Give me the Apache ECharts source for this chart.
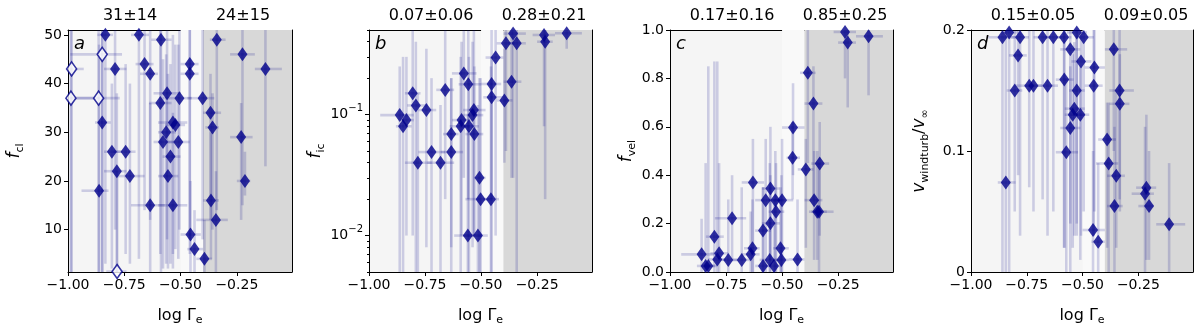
<!DOCTYPE html>
<html>
<head>
<meta charset="utf-8">
<script src="https://cdn.jsdelivr.net/npm/echarts@6/dist/echarts.min.js"></script>
<style>
  html, body { margin: 0; padding: 0; background: #fff; }
  #chart { width: 1200px; height: 334px; }
</style>
</head>
<body>
<div id="chart"></div>
<script>
// ---- data ----
// panel a: f_cl
const aX    = [-0.834,-0.685,-0.587,-0.848,-0.984,-0.791,-0.660,-0.635,-0.987,-0.864,-0.560,-0.590,-0.505,-0.848,-0.534,-0.523,-0.564,-0.578,-0.510,-0.805,-0.744,-0.545,-0.783,-0.725,-0.556,-0.862,-0.635,-0.534,-0.782,-0.339,-0.225,-0.123,-0.459,-0.459,-0.402,-0.367,-0.358,-0.231,-0.214,-0.365,-0.343,-0.456,-0.438,-0.394];
const aY    = [50,50,49,46,43,43,44,42,37,37,38,36,37,32,32,31.5,30,28,28,26,26,25,22,21,21,18,15,15,1.4,49,46,43,44,42,37,34,31,29,20,16,12,9,6,4];
const aXlo  = [-0.87,-0.72,-0.63,-0.99,-1.05,-0.84,-0.70,-0.68,-1.05,-0.99,-0.62,-0.64,-0.58,-0.88,-0.60,-0.57,-0.60,-0.62,-0.56,-0.84,-0.80,-0.58,-0.84,-0.78,-0.60,-0.94,-0.72,-0.60,-0.83,-0.37,-0.28,-0.17,-0.50,-0.50,-0.47,-0.40,-0.39,-0.28,-0.25,-0.40,-0.43,-0.50,-0.47,-0.43];
const aXhi  = [-0.80,-0.64,-0.54,-0.76,-0.93,-0.74,-0.62,-0.60,-0.86,-0.77,-0.50,-0.54,-0.45,-0.81,-0.47,-0.48,-0.52,-0.53,-0.46,-0.76,-0.70,-0.50,-0.74,-0.66,-0.51,-0.82,-0.57,-0.47,-0.74,-0.30,-0.17,-0.05,-0.42,-0.42,-0.35,-0.32,-0.33,-0.18,-0.19,-0.33,-0.29,-0.41,-0.40,-0.36];
const aYlo  = [3,4,1,1,1,10,14,12,1,1,8,5,10,1,5,6,3,2,4,2,5,3,1,3,2,1,1,2,1,14,15,23,8,5,8,12,10,12,17,4,1,1,1,1];
const aYhi  = [51,51,51,51,51,51,51,51,51,51,51,51,51,51,50,48,46,45,48,40,44,44,38,40,42,48,36,34,22,51,51,51,51,51,51,42,38,36,26,30,22,20,14,12];
const aOpen = [3,4,8,9,28];

// panel b: f_ic (log)
const bX   = [-0.577,-0.557,-0.805,-0.660,-0.791,-0.744,-0.863,-0.833,-0.848,-0.532,-0.538,-0.587,-0.591,-0.554,-0.530,-0.633,-0.721,-0.633,-0.782,-0.681,-0.507,-0.502,-0.456,-0.559,-0.514,-0.357,-0.341,-0.389,-0.219,-0.214,-0.118,-0.435,-0.453,-0.364,-0.453,-0.396];
const bY   = [0.219,0.178,0.150,0.160,0.119,0.109,0.099,0.090,0.080,0.109,0.099,0.090,0.080,0.080,0.069,0.069,0.049,0.049,0.040,0.040,0.030,0.020,0.020,0.010,0.010,0.467,0.388,0.388,0.455,0.400,0.470,0.296,0.179,0.187,0.139,0.131];
const bXlo = [-0.63,-0.60,-0.84,-0.70,-0.83,-0.78,-0.95,-0.86,-0.88,-0.58,-0.58,-0.63,-0.64,-0.60,-0.57,-0.67,-0.78,-0.68,-0.84,-0.74,-0.53,-0.57,-0.49,-0.62,-0.58,-0.40,-0.38,-0.43,-0.27,-0.25,-0.17,-0.48,-0.50,-0.40,-0.49,-0.43];
const bXhi = [-0.52,-0.50,-0.77,-0.62,-0.74,-0.70,-0.80,-0.80,-0.81,-0.48,-0.49,-0.54,-0.55,-0.51,-0.49,-0.60,-0.66,-0.58,-0.72,-0.62,-0.48,-0.45,-0.42,-0.50,-0.47,-0.30,-0.30,-0.35,-0.17,-0.18,-0.05,-0.40,-0.41,-0.32,-0.40,-0.36];
const bYlo = [0.03,0.02,0.01,0.02,0.005,0.008,0.005,0.01,0.005,0.01,0.008,0.01,0.005,0.005,0.01,0.008,0.005,0.005,0.005,0.005,0.005,0.005,0.005,0.005,0.005,0.03,0.005,0.05,0.08,0.02,0.35,0.01,0.005,0.03,0.02,0.04];
const bYhi = [0.5,0.5,0.5,0.5,0.4,0.35,0.25,0.3,0.3,0.5,0.4,0.4,0.3,0.3,0.25,0.2,0.2,0.2,0.15,0.12,0.2,0.2,0.25,0.1,0.12,0.5,0.5,0.5,0.5,0.5,0.5,0.5,0.5,0.5,0.3,0.35];

// panel c: f_vel
const cX   = [-0.630,-0.552,-0.573,-0.530,-0.500,-0.527,-0.552,-0.585,-0.723,-0.802,-0.859,-0.781,-0.632,-0.640,-0.507,-0.841,-0.829,-0.789,-0.740,-0.680,-0.585,-0.555,-0.536,-0.503,-0.219,-0.207,-0.114,-0.385,-0.360,-0.451,-0.453,-0.394,-0.332,-0.357,-0.343,-0.335,-0.431];
const cY   = [0.370,0.345,0.297,0.297,0.297,0.249,0.201,0.171,0.222,0.146,0.073,0.077,0.098,0.073,0.098,0.025,0.025,0.052,0.050,0.050,0.025,0.050,0.025,0.050,0.992,0.948,0.974,0.823,0.696,0.597,0.472,0.424,0.448,0.297,0.249,0.249,0.052];
const cXlo = [-0.68,-0.59,-0.62,-0.57,-0.54,-0.56,-0.59,-0.62,-0.80,-0.84,-0.95,-0.82,-0.67,-0.68,-0.54,-0.88,-0.86,-0.83,-0.78,-0.72,-0.62,-0.60,-0.57,-0.54,-0.27,-0.25,-0.17,-0.42,-0.40,-0.50,-0.48,-0.43,-0.37,-0.40,-0.38,-0.37,-0.47];
const cXhi = [-0.58,-0.51,-0.52,-0.49,-0.45,-0.49,-0.51,-0.55,-0.66,-0.76,-0.80,-0.74,-0.60,-0.60,-0.47,-0.80,-0.79,-0.75,-0.70,-0.64,-0.55,-0.51,-0.50,-0.47,-0.17,-0.17,-0.05,-0.35,-0.32,-0.40,-0.42,-0.36,-0.29,-0.32,-0.27,-0.30,-0.40];
const cYlo = [0,0.05,0,0,0,0,0,0,0.05,0,0,0,0,0,0,0,0,0,0,0,0,0,0,0,0.8,0.68,0.73,0.45,0.3,0.4,0.3,0.1,0.15,0.05,0.05,0,0];
const cYhi = [0.55,0.6,0.55,0.5,0.55,0.45,0.4,0.35,0.4,0.87,0.22,0.45,0.3,0.25,0.35,0.45,0.85,0.87,0.3,0.35,0.35,0.45,0.3,0.4,1,1,1,1,0.85,0.78,0.62,0.55,0.62,0.5,0.5,0.45,0.3];

// panel d: v_windturb / v_inf
const dX   = [-0.859,-0.829,-0.780,-0.679,-0.631,-0.583,-0.526,-0.789,-0.555,-0.507,-0.582,-0.739,-0.720,-0.657,-0.804,-0.526,-0.537,-0.544,-0.510,-0.555,-0.573,-0.844,-0.495,-0.360,-0.447,-0.450,-0.334,-0.333,-0.390,-0.383,-0.349,-0.214,-0.220,-0.202,-0.357,-0.112,-0.453,-0.430];
const dY   = [0.194,0.198,0.194,0.194,0.194,0.194,0.198,0.179,0.184,0.174,0.159,0.154,0.154,0.154,0.150,0.150,0.135,0.130,0.130,0.119,0.099,0.074,0.194,0.184,0.169,0.154,0.150,0.139,0.1095,0.0897,0.0795,0.0697,0.0647,0.0545,0.0545,0.0394,0.0347,0.025];
const dXlo = [-0.93,-0.86,-0.82,-0.72,-0.67,-0.62,-0.57,-0.83,-0.60,-0.55,-0.62,-0.80,-0.76,-0.70,-0.84,-0.56,-0.58,-0.58,-0.55,-0.60,-0.62,-0.88,-0.53,-0.40,-0.49,-0.49,-0.38,-0.38,-0.43,-0.44,-0.39,-0.26,-0.28,-0.25,-0.39,-0.17,-0.50,-0.46];
const dXhi = [-0.80,-0.79,-0.74,-0.64,-0.59,-0.55,-0.48,-0.75,-0.51,-0.46,-0.54,-0.70,-0.68,-0.61,-0.77,-0.49,-0.49,-0.50,-0.47,-0.51,-0.52,-0.80,-0.45,-0.30,-0.40,-0.41,-0.27,-0.29,-0.35,-0.34,-0.31,-0.17,-0.18,-0.18,-0.32,-0.04,-0.40,-0.40];
const dYlo = [0,0,0.03,0.06,0.05,0.02,0.03,0.08,0.04,0.03,0.02,0.07,0.05,0.03,0.05,0.04,0.03,0.02,0.01,0,0,0,0.05,0.1,0.05,0.03,0.06,0.05,0.02,0,0.02,0.01,0,0.01,0,0,0,0];
const dYhi = [0.2,0.2,0.2,0.2,0.2,0.2,0.2,0.2,0.2,0.2,0.2,0.2,0.2,0.2,0.2,0.2,0.19,0.18,0.17,0.17,0.16,0.2,0.2,0.2,0.2,0.2,0.2,0.18,0.14,0.14,0.15,0.13,0.12,0.1,0.12,0.09,0.1,0.09];

// labels / ticks
const statLeft  = ['31±14', '0.07±0.06', '0.17±0.16', '0.15±0.05'];
const statRight = ['24±15', '0.28±0.21', '0.85±0.25', '0.09±0.05'];
const panelTags = ['a', 'b', 'c', 'd'];
const xTicks = [-1, -0.75, -0.5, -0.25];
const aTicks = [10, 20, 30, 40, 50];
const bTicks = [0.01, 0.1];
const bMinorTicks = [0.005,0.006,0.007,0.008,0.009,0.02,0.03,0.04,0.05,0.06,0.07,0.08,0.09,0.2,0.3,0.4,0.5];
const SPLIT_SOFT = -0.5;   // start of the paler band
const SPLIT = -0.4;        // edge of the grey region

// ---- styling ----
const FONT = 'DejaVu Sans';
const NAVY = '#00008b';
const BAR = 'rgba(0,0,139,0.17)';
const LIGHT = '#f5f5f5';
const PALE = '#f9f9f9';
const DARK = '#d8d8d8';
const X_MIN = -1, X_MAX = -0.005;

const chart = echarts.init(document.getElementById('chart'));

const grids = [], xAxes = [], yAxes = [], series = [], graphics = [];

function rows(x, y, xlo, xhi, ylo, yhi) {
  return x.map((v, i) => [v, y[i], xlo[i], xhi[i], ylo[i], yhi[i]]);
}

function errorBars(params, api) {
  const x = api.value(0), y = api.value(1);
  const l = api.coord([api.value(2), y]), r = api.coord([api.value(3), y]);
  const b = api.coord([x, api.value(4)]), t = api.coord([x, api.value(5)]);
  const st = { stroke: BAR, lineWidth: 2.6 };
  return {
    type: 'group',
    children: [
      { type: 'line', shape: { x1: l[0], y1: l[1], x2: r[0], y2: r[1] }, style: st },
      { type: 'line', shape: { x1: b[0], y1: b[1], x2: t[0], y2: t[1] }, style: st }
    ]
  };
}

const subRich = {
  n: { fontSize: 16, fontFamily: FONT, color: '#000', lineHeight: 20 },
  i: { fontSize: 17, fontFamily: FONT, fontStyle: 'italic', color: '#000', lineHeight: 22 },
  s: { fontSize: 11, fontFamily: FONT, color: '#000', lineHeight: 11, verticalAlign: 'bottom' }
};

function addPanel(k, p) {
  const g = grids.length;
  grids.push({ left: p.left, top: 30, width: p.width, height: 242, show: true,
               backgroundColor: LIGHT, borderWidth: 0 });

  const xi = xAxes.length;
  xAxes.push({
    gridIndex: g, type: 'value', min: X_MIN, max: X_MAX,
    name: '{n|log Γ}{s|e}', nameLocation: 'middle', nameGap: 34,
    nameTextStyle: { rich: subRich },
    axisLine: { onZero: false, lineStyle: { color: '#000', width: 1 } },
    axisTick: { length: 4, customValues: xTicks, lineStyle: { color: '#000' } },
    axisLabel: { color: '#000', fontSize: 14, fontFamily: FONT, margin: 6, customValues: xTicks,
                 formatter: v => v.toFixed(2).replace('-', '−') },
    splitLine: { show: false }
  });
  xAxes.push({
    gridIndex: g, type: 'value', position: 'top', min: X_MIN, max: X_MAX,
    axisLine: { onZero: false, lineStyle: { color: '#000', width: 1 } },
    axisTick: { show: false }, axisLabel: { show: false }, splitLine: { show: false }
  });

  const yi = yAxes.length;
  yAxes.push(Object.assign({
    gridIndex: g, nameLocation: 'middle', nameGap: p.nameGap, name: p.name,
    nameTextStyle: { rich: subRich },
    axisLine: { onZero: false, lineStyle: { color: '#000', width: 1 } },
    splitLine: { show: false }
  }, p.y, {
    axisTick: Object.assign({ length: 4, lineStyle: { color: '#000' } }, p.y.axisTick || {}),
    axisLabel: Object.assign({ color: '#000', fontSize: 14, fontFamily: FONT, margin: 6 }, p.y.axisLabel || {})
  }));
  yAxes.push({
    gridIndex: g, type: 'value', position: 'right', min: 0, max: 1,
    axisLine: { onZero: false, lineStyle: { color: '#000', width: 1 } },
    axisTick: { show: false }, axisLabel: { show: false }, splitLine: { show: false }
  });
  if (p.minor) {
    yAxes.push({
      gridIndex: g, type: 'log', logBase: 10, min: p.y.min, max: p.y.max, position: 'left',
      axisLine: { show: false },
      axisTick: { length: 2, customValues: p.minor, lineStyle: { color: '#000' } },
      axisLabel: { show: false }, splitLine: { show: false }
    });
  }

  series.push({
    type: 'custom', xAxisIndex: xi, yAxisIndex: yi, clip: true, z: 2,
    renderItem: errorBars, data: p.data, silent: true,
    markArea: {
      silent: true,
      data: [
        [{ xAxis: SPLIT_SOFT, itemStyle: { color: PALE } }, { xAxis: SPLIT }],
        [{ xAxis: SPLIT, itemStyle: { color: DARK } }, { xAxis: X_MAX }]
      ]
    }
  });
  const open = p.open || [];
  series.push({
    type: 'scatter', xAxisIndex: xi, yAxisIndex: yi, z: 3,
    symbol: 'diamond', symbolSize: [10, 14],
    itemStyle: { color: NAVY },
    data: p.data.map((r, i) => open.includes(i)
      ? { value: [r[0], r[1]], itemStyle: { color: '#fff', borderColor: NAVY, borderWidth: 1.6 } }
      : [r[0], r[1]])
  });

  const st = { fontSize: 16, fontFamily: FONT, fill: '#000', align: 'center', verticalAlign: 'middle' };
  graphics.push({ type: 'text', x: p.left + 62, y: 16, style: Object.assign({ text: statLeft[k] }, st) });
  graphics.push({ type: 'text', x: p.left + 175, y: 16, style: Object.assign({ text: statRight[k] }, st) });
  graphics.push({ type: 'text', x: p.left + 6, y: 44, z: 10,
                  style: { text: panelTags[k], fontSize: 18, fontFamily: FONT, fontStyle: 'italic',
                           fill: '#000', align: 'left', verticalAlign: 'middle' } });
}

addPanel(0, {
  left: 68, width: 224, nameGap: 42, name: '{i|f}{s|cl}',
  data: rows(aX, aY, aXlo, aXhi, aYlo, aYhi), open: aOpen,
  y: { type: 'value', min: 1.3, max: 51,
       axisTick: { customValues: aTicks }, axisLabel: { customValues: aTicks } }
});
addPanel(1, {
  left: 369, width: 223, nameGap: 28, name: '{i|f}{s|ic}',
  data: rows(bX, bY, bXlo, bXhi, bYlo, bYhi), minor: bMinorTicks,
  y: { type: 'log', logBase: 10, min: 0.005, max: 0.5,
       axisTick: { customValues: bTicks },
       axisLabel: { customValues: bTicks, formatter: v => v > 0.05 ? '{b|10}{e|−1}' : '{b|10}{e|−2}',
                    rich: { b: { fontSize: 14, fontFamily: FONT, color: '#000', lineHeight: 22 },
                            e: { fontSize: 10, fontFamily: FONT, color: '#000', lineHeight: 12, verticalAlign: 'top' } } } }
});
addPanel(2, {
  left: 670, width: 223, nameGap: 32, name: '{i|f}{s|vel}',
  data: rows(cX, cY, cXlo, cXhi, cYlo, cYhi),
  y: { type: 'value', min: 0, max: 1, interval: 0.2,
       axisLabel: { formatter: v => v.toFixed(1) } }
});
addPanel(3, {
  left: 971, width: 222, nameGap: 40, name: '{i|v}{s|windturb}{n|/}{i|v}{s|∞}',
  data: rows(dX, dY, dXlo, dXhi, dYlo, dYhi),
  y: { type: 'value', min: 0, max: 0.2, interval: 0.1,
       axisLabel: { formatter: v => v === 0 ? '0' : v.toFixed(1) } }
});

chart.setOption({
  animation: false,
  backgroundColor: '#fff',
  textStyle: { fontFamily: FONT },
  grid: grids,
  xAxis: xAxes,
  yAxis: yAxes,
  series: series,
  graphic: graphics
});
</script>
</body>
</html>
